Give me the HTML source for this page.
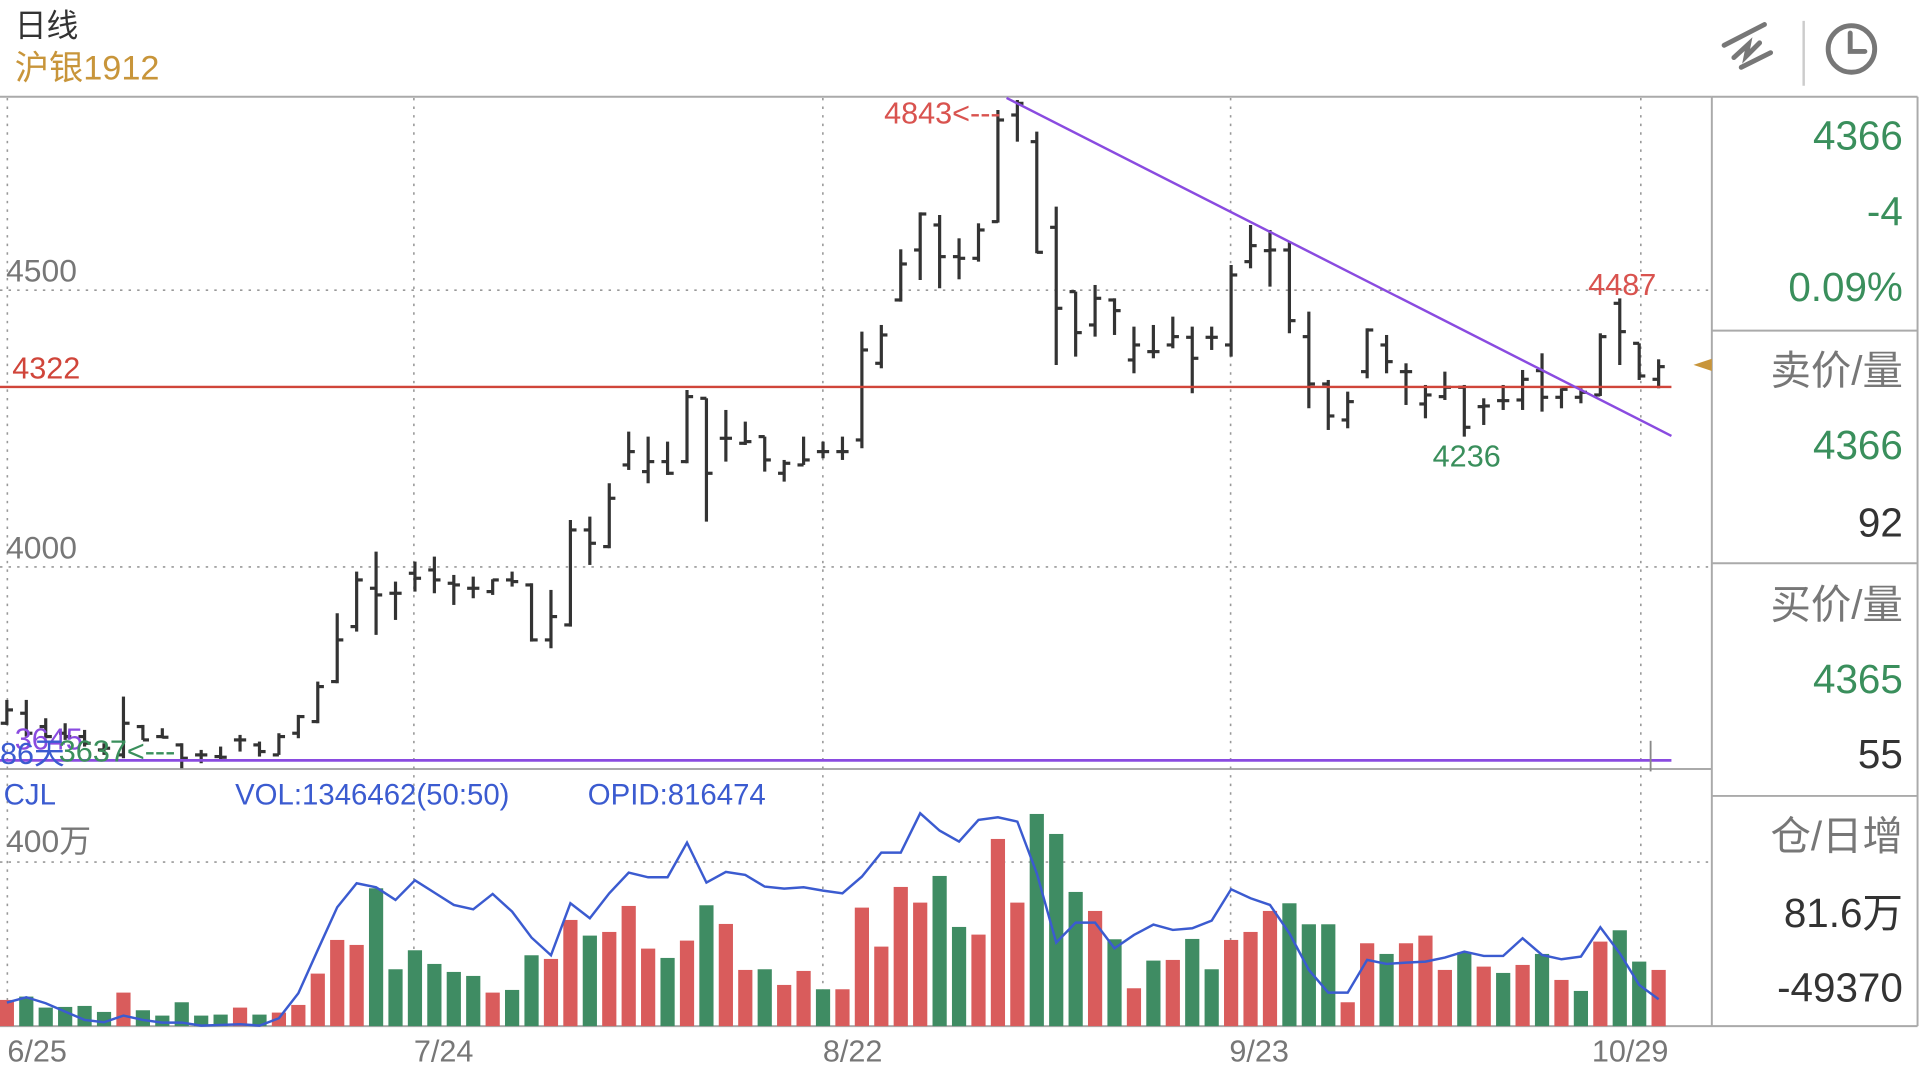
<!DOCTYPE html>
<html><head><meta charset="utf-8"><style>
html,body{margin:0;padding:0;background:#fff;overflow:hidden}
svg{display:block}
text{font-family:"Liberation Sans","Noto Sans CJK SC",sans-serif}
</style></head><body>
<svg id="s" width="1920" height="1080" viewBox="0 0 1568 882" preserveAspectRatio="none" xmlns="http://www.w3.org/2000/svg">
<rect width="1568" height="882" fill="#fff"/>
<text x="12" y="30" font-size="26" fill="#333">日线</text>
<text x="12" y="65" font-size="28" fill="#c8953a">沪银1912</text>
<g stroke="#777" stroke-width="4" stroke-linecap="round" fill="none">
<line x1="1408" y1="37" x2="1441" y2="20"/>
<line x1="1422" y1="55" x2="1446" y2="43"/>
<polyline points="1416,47 1428,36 1426,46 1437,35"/>
<circle cx="1512" cy="40" r="19"/>
<polyline points="1511,27 1511,42 1523,42"/>
</g>
<line x1="1473" y1="17" x2="1473" y2="70" stroke="#ccc" stroke-width="2"/>
<g stroke="#aaa" stroke-width="1.6" fill="none">
<line x1="0" y1="79" x2="1398" y2="79"/>
<line x1="1398" y1="79" x2="1566" y2="79"/>
<line x1="1398" y1="79" x2="1398" y2="838"/>
<line x1="1566" y1="79" x2="1566" y2="838"/>
<line x1="1398" y1="270" x2="1566" y2="270"/>
<line x1="1398" y1="460" x2="1566" y2="460"/>
<line x1="1398" y1="650" x2="1566" y2="650"/>
<line x1="0" y1="838" x2="1566" y2="838"/>
<line x1="0" y1="628" x2="1398" y2="628"/>
</g>
<g stroke="#999" stroke-width="1.3" stroke-dasharray="2,5" fill="none">
<line x1="0" y1="237" x2="1398" y2="237"/>
<line x1="0" y1="463" x2="1398" y2="463"/>
<line x1="0" y1="704" x2="1398" y2="704"/>
<line x1="6" y1="80" x2="6" y2="838"/>
<line x1="338" y1="80" x2="338" y2="838"/>
<line x1="672" y1="80" x2="672" y2="838"/>
<line x1="1005" y1="80" x2="1005" y2="838"/>
<line x1="1340" y1="80" x2="1340" y2="838"/>
</g>
<g font-size="26" fill="#777">
<text x="5" y="230">4500</text>
<text x="5" y="456">4000</text>
<text x="5" y="696">400万</text>
</g>
<g font-size="25" fill="#777">
<text x="6" y="867">6/25</text>
<text x="338" y="867">7/24</text>
<text x="672" y="867">8/22</text>
<text x="1004" y="867">9/23</text>
<text x="1300" y="867">10/29</text>
</g>
<g font-size="33" text-anchor="end">
<text x="1554" y="122" fill="#3a8f5c">4366</text>
<text x="1554" y="184" fill="#3a8f5c">-4</text>
<text x="1554" y="246" fill="#3a8f5c">0.09%</text>
<text x="1554" y="314" fill="#777">卖价/量</text>
<text x="1554" y="375" fill="#3a8f5c">4366</text>
<text x="1554" y="438" fill="#333">92</text>
<text x="1554" y="505" fill="#777">买价/量</text>
<text x="1554" y="566" fill="#3a8f5c">4365</text>
<text x="1554" y="627" fill="#333">55</text>
<text x="1554" y="694" fill="#777">仓/日增</text>
<text x="1554" y="757" fill="#333">81.6万</text>
<text x="1554" y="818" fill="#333">-49370</text>
</g>
<polygon points="1383,298 1398,293 1398,303" fill="#c8953a"/>
<g id="vol"></g>
<g id="bars"></g>
<line x1="0" y1="316" x2="1365" y2="316" stroke="#d0453a" stroke-width="2"/>
<text x="10" y="309" font-size="25" fill="#d0453a">4322</text>
<line x1="0" y1="621" x2="1365" y2="621" stroke="#8a4be0" stroke-width="2.2"/>
<line x1="822" y1="80" x2="1365" y2="356" stroke="#8a4be0" stroke-width="2"/>
<line x1="1348" y1="605" x2="1348" y2="630" stroke="#888" stroke-width="1.5"/>
<text x="722" y="101" font-size="25" fill="#d9534f">4843&lt;---</text>
<text x="1297" y="241" font-size="25" fill="#d9534f">4487</text>
<text x="1170" y="381" font-size="25" fill="#3a8f5c">4236</text>
<text x="12" y="612" font-size="25" fill="#8a4be0">3645</text>
<text x="0" y="624" font-size="25" fill="#3b5bd0">86天</text>
<text x="48" y="622" font-size="25" fill="#3a8f5c">3637&lt;---</text>
<g font-size="24" fill="#3b5bd0">
<text x="3" y="657">CJL</text>
<text x="192" y="657">VOL:1346462(50:50)</text>
<text x="480" y="657">OPID:816474</text>
</g>
</svg>
<script>
function X(i){return 5.6+i*15.87;}
var z4=[[960,1035,1030,990],[960,1070,1000,1060],[1015,1075,1040,1070],[1030,1080,1060,1070],[1050,1100,1070,1090],[1090,1125,1110,1105],[950,1135,1125,1030],[1035,1080,1040,1080],[1045,1075,1070,1072],[1090,1165,1095,1135],[1110,1150,1125,1125],[1100,1140,1130,1132],[1065,1115,1080,1080],[1085,1130,1095,1115],[1060,1125,1125,1070],[1005,1075,1060,1010],[905,1030,1025,920],[700,910,905,780],[575,755,740,600],[515,765,625,645],[605,720,640,640],[545,635,580,595],[530,640,570,600],[585,675,610,615],[590,655,625,625],[598,645,635,600],[575,620,600,605],[610,785,615,780],[630,805,780,710]];
var b=[];
z4.forEach(function(a){b.push(a.map(function(v){return 310.3+v/3.674;}));});
var z4b=[[420,740,735,450],[410,555,450,490],[310,505,500,355],[155,270,255,215],[170,310,275,245],[185,285,245,280],[30,250,245,50],[55,425,55,280]];
z4b.forEach(function(a){b.push(a.map(function(v){return 310.3+v/3.674;}));});
var z5=[[960,1115,1045,1045],[995,1065,1060,1055],[1040,1145,1040,1110],[1110,1175,1150,1120],[1040,1125,1125,1110],[1055,1105,1085,1085],[1040,1110,1085,1085],[725,1075,1050,780],[705,835,820,735],[478,635,630,522],[367,570,480,372],[375,595,405,500],[445,568,500,505],[400,515,505,420],[60,398,395,90],[30,155,75,40],[125,490,155,487],[350,825,412,655],[605,800,605,728],[585,740,705,625],[625,735,630,662],[710,850,810,765],[705,805,785,785],[680,775,765,740],[710,910,742,805],[710,780,742,742],[525,800,765,555],[405,535,515,467],[420,590,482,480]];
z5.forEach(function(a){b.push(a.map(function(v){return 73.5+v/3.674;}));});
var z6=[[185,460,210,422],[395,685,470,612],[600,750,612,708],[635,745,720,665],[445,595,575,450],[465,580,495,545],[550,675,575,575],[615,715,672,645],[575,660,650,622],[615,770,622,742],[655,735,680,678],[615,690,662,662],[570,690,660,598],[520,695,572,652],[625,685,652,628],[625,670,652,637],[460,648,645,470],[355,555,370,455],[490,600,490,588],[538,625,598,560]];
z6.forEach(function(a){b.push(a.map(function(v){return 147+v/3.674;}));});
var g=document.getElementById("bars"),h="";
b.forEach(function(a,i){var x=X(i);
h+='<line x1="'+x+'" y1="'+a[0]+'" x2="'+x+'" y2="'+a[1]+'"/>';
h+='<line x1="'+(x-5)+'" y1="'+a[2]+'" x2="'+x+'" y2="'+a[2]+'"/>';
h+='<line x1="'+x+'" y1="'+a[3]+'" x2="'+(x+5)+'" y2="'+a[3]+'"/>';});
g.innerHTML='<g stroke="#333" stroke-width="2.6">'+h+'</g>';
var vt=[['r',600],['g',590],['g',623],['g',621],['g',618],['g',636],['r',578],['g',631],['g',647],['g',607],['g',647],['g',644],['r',623],['g',644],['r',638],['r',615],['r',521],['r',420],['r',435],['g',265],['g',508],['g',451],['g',492],['g',516],['g',528],['r',578],['g',570],['g',466],['r',477],['r',360],['g',407],['r',396],['r',318],['r',446],['g',474],['r',422],['g',316],['r',372],['r',510],['g',508],['r',555],['r',513],['g',568],['r',568],
['r',323],['r',440],['r',261],['r',308],['g',228],['g',381],['r',404],['r',117],['r',308],['g',42],['g',102],['g',276],['r',333],['g',418],['r',565],['g',482],['r',480],['g',417],['g',508],['r',420],['r',396],['r',333],['g',310],['g',373],['g',373],['r',607],['r',430],['g',462],['r',430],['r',407],['r',510],['g',457],['r',500],['g',519],['r',495],['g',462],['r',540],['g',573],['r',425],['g',391],['g',485],['r',510]];
var ln=[608,592,610,635,660,667,647,660,668,668,677,675,673,677,655,580,450,322,250,262,300,241,278,315,328,282,335,413,466,310,355,280,218,232,232,128,248,216,225,260,266,262,272,280,
230,158,158,40,92,125,60,52,65,220,428,368,368,445,405,374,390,385,362,268,295,315,400,510,578,578,480,492,488,485,473,455,468,468,415,465,478,470,382,460,555,598];
var vh="",pts=[];
vt.forEach(function(a,i){var x=X(i),y=653.3+a[1]/3.674;
vh+='<rect x="'+(x-5.8)+'" y="'+y+'" width="11.6" height="'+(838-y)+'" fill="'+(a[0]=='r'?'#d95c5c':'#3f8c63')+'"/>';
pts.push(x+','+(653.3+ln[i]/3.674));});
vh+='<polyline points="'+pts.join(' ')+'" fill="none" stroke="#3b5bd0" stroke-width="2"/>';
document.getElementById("vol").innerHTML=vh;
</script>
</body></html>
